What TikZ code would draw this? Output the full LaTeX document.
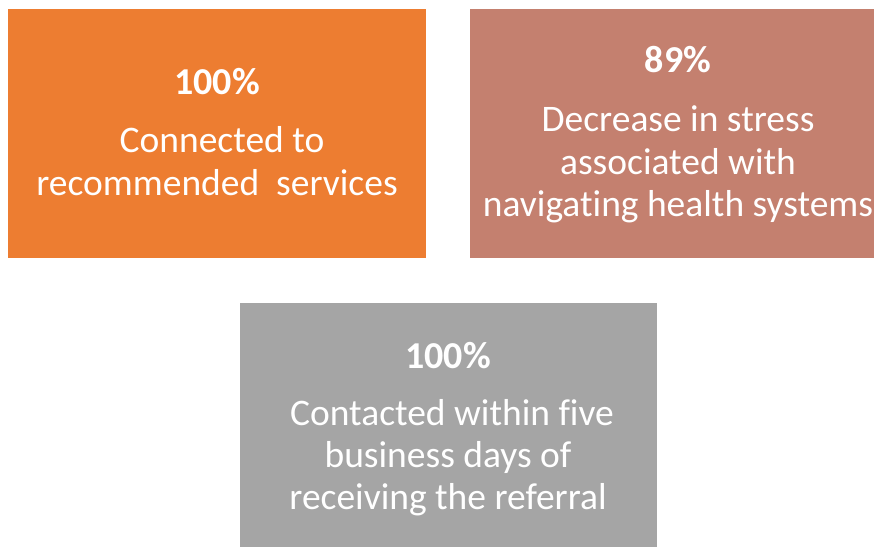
\documentclass[tikz,border=0pt]{standalone}
\usepackage{fontspec}
\setmainfont{Carlito}[RawFeature={-liga;-dlig;-calt}]
\definecolor{orangebox}{HTML}{ED7D31}
\definecolor{rosebox}{HTML}{C4806F}
\definecolor{graybox}{HTML}{A5A5A5}
\tikzset{
  panel/.style={inner sep=0pt, outer sep=0pt},
  head/.style={text=white, anchor=base, font=\fontsize{38}{44}\selectfont\bfseries, inner sep=0pt},
  body/.style={text=white, anchor=base, font=\fontsize{37.5}{44}\selectfont, inner sep=0pt}
}
\begin{document}
\begin{tikzpicture}[x=1pt,y=1pt]
\useasboundingbox (0,0) rectangle (874,547);
\fill[white] (0,0) rectangle (874,547);
% boxes
\fill[orangebox] (8,289) rectangle (426,538);
\fill[rosebox] (470,289) rectangle (880,538);
\fill[graybox] (240,0) rectangle (657,244);
\node[panel] (orange) at (217,413.5) {};
\node[panel] (rose) at (675,413.5) {};
\node[panel] (gray) at (448.5,122) {};
% orange texts
\node[head] (o1) at (217,452) {100\%};
\node[body] (o2) at (222,394) {Connected to};
\node[body] (o3) at (217,352) {recommended\ \ services};
% rose texts
\node[head] (r1) at (678,474) {89\%};
\node[body] (r2) at (678,415) {Decrease in stress};
\node[body] (r3) at (678,373) {associated with};
\node[body] (r4) at (678,331) {navigating health systems};
% gray texts
\node[head] (g1) at (448,179) {100\%};
\node[body] (g2) at (452,122) {Contacted within five};
\node[body] (g3) at (448,80) {business days of};
\node[body] (g4) at (448,38) {receiving the referral};
\end{tikzpicture}
\end{document}
